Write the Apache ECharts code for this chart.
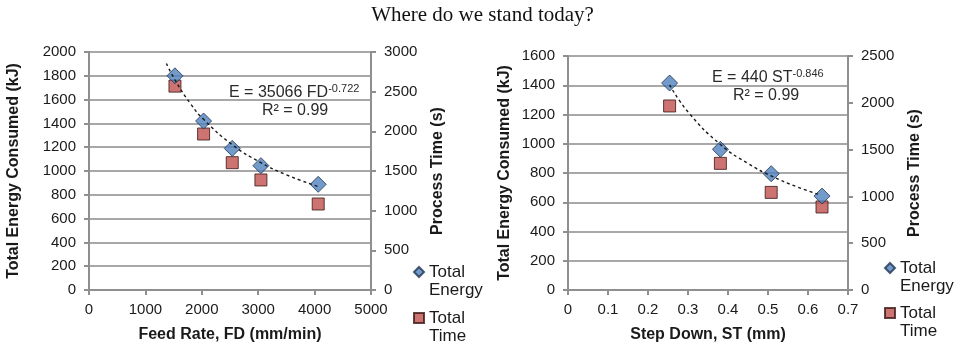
<!DOCTYPE html>
<html>
<head>
<meta charset="utf-8">
<script src="https://cdn.jsdelivr.net/npm/echarts@6/dist/echarts.min.js"></script>
<style>
  html, body { margin: 0; padding: 0; background: #fff; }
  #chart { width: 965px; height: 348px; }
</style>
</head>
<body>
<div id="chart"></div>
<script>
// Feed-rate study
const feedRate = [1524, 2032, 2540, 3048, 4064];            // mm/min
const feedEnergy = [1800, 1420, 1190, 1045, 888];           // kJ
const feedTime = [2570, 1966, 1605, 1387, 1084];            // s
const feedTrendX = [1372, 1524, 1800, 2032, 2540, 3048, 3500, 4064];
const feedTrendY = [1904, 1766, 1565, 1434, 1221, 1070, 968, 869];

// Step-down study
const stepDown = [0.254, 0.381, 0.508, 0.635];              // mm
const stepEnergy = [1415, 962, 795, 642];                   // kJ
const stepTime = [1966, 1353, 1043, 887];                   // s
const stepTrendX = [0.254, 0.3, 0.381, 0.45, 0.508, 0.57, 0.625];
const stepTrendY = [1403, 1218, 995, 865, 780, 708, 655];

const titleText = 'Where do we stand today?';
const energyName = 'Total Energy';
const timeName = 'Total Time';

const FONT = 'Liberation Sans, Arial, sans-serif';
const TXT = '#1a1a1a';
const AXIS_C = '#8f8f8f';
const GRID_C = '#a8a8a8';

const pairs = (xs, ys) => xs.map((x, i) => [x, ys[i]]);
const plain = v => String(+(+v).toFixed(1));

const chart = echarts.init(document.getElementById('chart'), null, { renderer: 'canvas' });

function yAxisCfg(gridIndex, max, interval, position, name, nameGap, showGrid) {
  return {
    gridIndex, type: 'value', min: 0, max, interval, position,
    name, nameLocation: 'middle', nameGap, nameRotate: 90,
    nameTextStyle: { fontFamily: FONT, fontSize: 16, fontWeight: 'bold', color: TXT },
    axisLine: { show: true, lineStyle: { color: AXIS_C, width: 2 } },
    axisTick: { show: true, length: 5, lineStyle: { color: AXIS_C, width: 2 } },
    axisLabel: { fontFamily: FONT, fontSize: 15, color: TXT, margin: 13, formatter: plain },
    splitLine: { show: showGrid, lineStyle: { color: GRID_C, width: 2 } }
  };
}

function xAxisCfg(gridIndex, max, interval, name) {
  return {
    gridIndex, type: 'value', min: 0, max, interval,
    name, nameLocation: 'middle', nameGap: 37,
    nameTextStyle: { fontFamily: FONT, fontSize: 16, fontWeight: 'bold', color: TXT },
    axisLine: { show: true, onZero: false, lineStyle: { color: AXIS_C, width: 2 } },
    axisTick: { show: true, length: 5, lineStyle: { color: AXIS_C, width: 2 } },
    axisLabel: { fontFamily: FONT, fontSize: 15, color: TXT, margin: 12, formatter: plain },
    splitLine: { show: false }
  };
}

const energyStyle = { color: '#4f81bd', borderColor: '#1f3550', borderWidth: 1 };
const timeStyle = { color: '#c0504d', borderColor: '#3a1615', borderWidth: 1 };

function scatterSeries(name, xAxisIndex, yAxisIndex, data, symbol, size, style) {
  return {
    type: 'scatter', name, xAxisIndex, yAxisIndex, data,
    symbol, symbolSize: size, itemStyle: style, z: symbol === 'diamond' ? 4 : 3,
    emphasis: { disabled: true }
  };
}

function trendSeries(xAxisIndex, yAxisIndex, data) {
  return {
    type: 'line', name: 'trend', xAxisIndex, yAxisIndex, data,
    smooth: true, showSymbol: false, symbol: 'none', silent: true, z: 5,
    lineStyle: { color: '#1a1a1a', width: 1.4, type: [3, 3] }
  };
}

// One legend entry per block. The name wraps onto two lines; an empty
// leading line keeps the marker level with the first word.
function legendItem(name, icon, left, top) {
  return {
    data: [{ name, icon }],
    left, top, itemWidth: 10, itemHeight: 10, selectedMode: false, padding: 0,
    formatter: n => ' \n' + n.replace(' ', '\n'),
    textStyle: { fontFamily: FONT, fontSize: 17, color: TXT, lineHeight: 18 }
  };
}

function equation(left, top, main, sup, r2Left) {
  return [
    {
      type: 'text', left, top,
      style: {
        text: '{m|' + main + '}{s|' + sup + '}',
        rich: {
          m: { fontFamily: FONT, fontSize: 16, fill: '#2b2b2b', verticalAlign: 'bottom', lineHeight: 18 },
          s: { fontFamily: FONT, fontSize: 11, fill: '#2b2b2b', verticalAlign: 'top', lineHeight: 18, padding: [0, 0, 9, 0] }
        }
      }
    },
    {
      type: 'text', left: r2Left, top: top + 20,
      style: { text: 'R² = 0.99', fontFamily: FONT, fontSize: 16, fill: '#2b2b2b' }
    }
  ];
}

const option = {
  animation: false,
  backgroundColor: '#ffffff',
  title: {
    text: titleText, left: 'center', top: 0,
    textStyle: { fontFamily: 'Liberation Serif, Times New Roman, serif', fontSize: 21, fontWeight: 'normal', color: '#111' }
  },
  grid: [
    { left: 89, top: 52, width: 282, height: 238 },
    { left: 568, top: 56, width: 280, height: 234 }
  ],
  xAxis: [
    xAxisCfg(0, 5000, 1000, 'Feed Rate, FD (mm/min)'),
    xAxisCfg(1, 0.7, 0.1, 'Step Down, ST (mm)')
  ],
  yAxis: [
    yAxisCfg(0, 2000, 200, 'left', 'Total Energy Consumed (kJ)', 67, true),
    yAxisCfg(0, 3000, 500, 'right', 'Process Time (s)', 59, false),
    yAxisCfg(1, 1600, 200, 'left', 'Total Energy Consumed (kJ)', 55, true),
    yAxisCfg(1, 2500, 500, 'right', 'Process Time (s)', 59, false)
  ],
  legend: [
    legendItem(energyName, 'diamond', 413, 245),
    legendItem(timeName, 'rect', 413, 291),
    legendItem(energyName, 'diamond', 884, 241),
    legendItem(timeName, 'rect', 884, 286)
  ],
  series: [
    scatterSeries(timeName, 0, 1, pairs(feedRate, feedTime), 'rect', 12, timeStyle),
    scatterSeries(energyName, 0, 0, pairs(feedRate, feedEnergy), 'diamond', 16, energyStyle),
    trendSeries(0, 0, pairs(feedTrendX, feedTrendY)),
    scatterSeries(timeName, 1, 3, pairs(stepDown, stepTime), 'rect', 12, timeStyle),
    scatterSeries(energyName, 1, 2, pairs(stepDown, stepEnergy), 'diamond', 16, energyStyle),
    trendSeries(1, 2, pairs(stepTrendX, stepTrendY))
  ],
  graphic: [
    ...equation(229, 83, 'E = 35066 FD', '-0.722', 262),
    ...equation(712, 68, 'E = 440 ST', '-0.846', 733)
  ]
};

chart.setOption(option);
</script>
</body>
</html>
